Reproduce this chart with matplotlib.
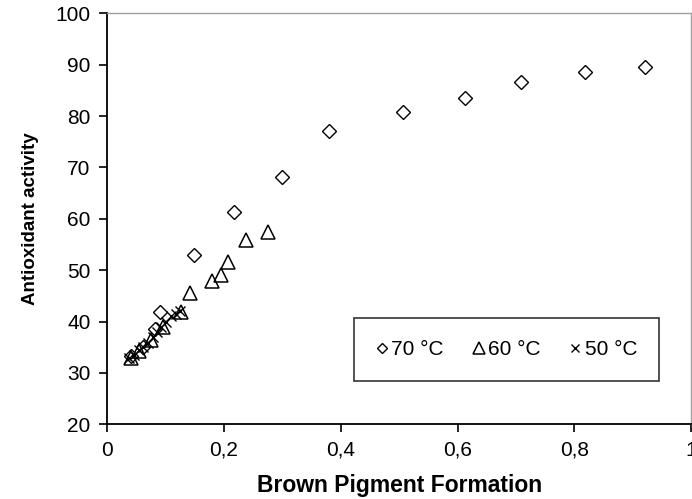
import matplotlib
matplotlib.use("Agg")
import matplotlib.pyplot as plt

plt.rcParams['font.family'] = ['Liberation Sans', 'DejaVu Sans']

# brown pigment formation (x) vs antioxidant activity (y)
x70 = [0.040, 0.062, 0.082, 0.090, 0.149, 0.217, 0.299, 0.380, 0.506, 0.612, 0.708, 0.819, 0.921]
y70 = [33.3, 35.0, 38.6, 41.8, 52.9, 61.4, 68.2, 77.1, 80.7, 83.6, 86.7, 88.6, 89.6]

x60 = [0.040, 0.055, 0.075, 0.095, 0.127, 0.142, 0.180, 0.194, 0.207, 0.237, 0.276]
y60 = [33.0, 34.3, 36.5, 39.0, 41.8, 45.6, 47.8, 49.1, 51.5, 55.8, 57.4]

x50 = [0.038, 0.045, 0.055, 0.062, 0.070, 0.078, 0.085, 0.092, 0.100, 0.110, 0.118, 0.125]
y50 = [33.0, 33.5, 34.5, 35.0, 35.8, 37.0, 38.0, 39.0, 40.0, 41.0, 41.5, 42.0]

xticks = [0, 0.2, 0.4, 0.6, 0.8, 1]
xticklabels = ['0', '0,2', '0,4', '0,6', '0,8', '1']
yticks = [20, 30, 40, 50, 60, 70, 80, 90, 100]

fig = plt.figure(figsize=(6.92, 4.99), dpi=100)
ax = fig.add_axes([0.155, 0.1497, 0.8436, 0.8236])

ax.plot(x70, y70, 'D', ls='none', ms=7, mfc='none', mec='black', mew=1.0, label='70 °C')
ax.plot(x60, y60, '^', ls='none', ms=10, mfc='none', mec='black', mew=1.1, label='60 °C')
ax.plot(x50, y50, 'x', ls='none', ms=7, mec='black', mew=1.0, label='50 °C')

ax.set_xlim(0, 1)
ax.set_ylim(20, 100)
ax.set_xticks(xticks)
ax.set_xticklabels(xticklabels)
ax.set_yticks(yticks)
ax.tick_params(direction='out', length=6, width=1.2, labelsize=15, pad=6)

for s in ['left', 'bottom']:
    ax.spines[s].set_color('black')
    ax.spines[s].set_linewidth(1.3)
for s in ['top', 'right']:
    ax.spines[s].set_color('#a0a0a0')
    ax.spines[s].set_linewidth(1.0)

ax.set_xlabel('Brown Pigment Formation', fontsize=16.5, fontweight='bold', labelpad=10)
ax.set_ylabel('Antioxidant activity', fontsize=13.5, fontweight='bold', labelpad=12)

leg = ax.legend(loc='lower left', bbox_to_anchor=(0.4226, 0.1054, 0.5225, 0.153), mode='expand',
                borderaxespad=0, ncol=3, frameon=True, fancybox=False, fontsize=15,
                handlelength=0.6, handletextpad=0.15, columnspacing=1.0, borderpad=1.05,
                markerscale=0.8)
leg.get_frame().set_edgecolor('black')
leg.get_frame().set_linewidth(1.2)

fig.savefig('out.png', dpi=100)
